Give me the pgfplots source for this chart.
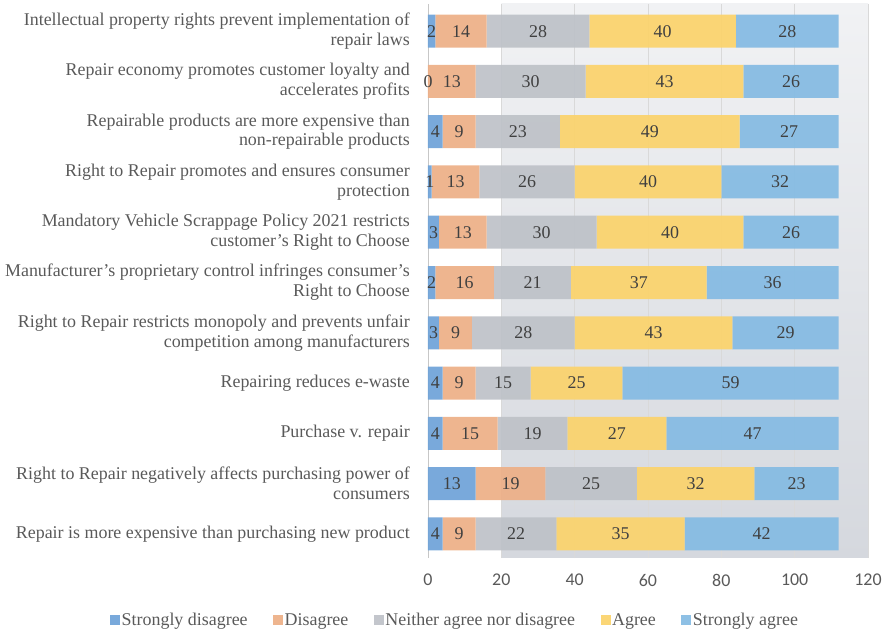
\documentclass[border=0pt]{standalone}
\usepackage{fontspec}
\setmainfont{Liberation Serif}
\newfontfamily\tickfont{Carlito}
\usepackage{pgfplots}
\usepackage{pgfplotstable}
\pgfplotsset{compat=1.18}
\definecolor{cSD}{HTML}{6FA3D8}
\definecolor{cD}{HTML}{EDAF87}
\definecolor{cN}{HTML}{BEC2C8}
\definecolor{cA}{HTML}{FBD36C}
\definecolor{cSA}{HTML}{85BBE3}
\definecolor{labgray}{HTML}{595959}
\definecolor{valgray}{HTML}{404040}
\definecolor{gridgray}{HTML}{D9D9D9}
\definecolor{bgtop}{HTML}{F1F2F4}
\definecolor{bgbot}{HTML}{D5D8DE}

\pgfplotstableread{
idx sd d n a sa
0 4 9 22 35 42
1 13 19 25 32 23
2 4 15 19 27 47
3 4 9 15 25 59
4 3 9 28 43 29
5 2 16 21 37 36
6 3 13 30 40 26
7 1 13 26 40 32
8 4 9 23 49 27
9 0 13 30 43 26
10 2 14 28 40 28
}\datatable

\pgfplotsset{
  seg/.style={fill=#1, draw=none, fill opacity=0.93},
  common/.style={
    scale only axis,
    width=440bp, height=554bp,
    at={(0,0)}, anchor=south west,
    xmin=0, xmax=120,
    ymin=-0.48, ymax=10.54,
  },
  lab/.style={only marks, mark=none, nodes near coords, point meta=explicit,
    every node near coord/.style={anchor=center, text=valgray, inner sep=0pt,
      font=\fontsize{18}{20}\selectfont}},
}

\begin{document}
\begin{tikzpicture}
\shade[top color=bgtop, bottom color=bgbot] (73.333bp,0bp) rectangle (440bp,554bp);
\begin{axis}[
  common,
  xbar stacked,
  bar width=33bp,
  xtick={0,20,...,120},
  ytick={0,...,10},
  yticklabels={
    {Repair is more expensive than purchasing new product},
    {Right to Repair negatively affects purchasing power of\\consumers},
    {Purchase v. repair},
    {Repairing reduces e-waste},
    {Right to Repair restricts monopoly and prevents unfair\\competition among manufacturers},
    {Manufacturer's proprietary control infringes consumer's\\Right to Choose},
    {Mandatory Vehicle Scrappage Policy 2021 restricts\\customer's Right to Choose},
    {Right to Repair promotes and ensures consumer\\protection},
    {Repairable products are more expensive than\\non-repairable products},
    {Repair economy promotes customer loyalty and\\accelerates profits},
    {Intellectual property rights prevent implementation of\\repair laws}
  },
  major tick length=0pt,
  axis lines*=left,
  x axis line style={draw=none},
  y axis line style={draw=gridgray!80!gray, line width=0.8pt},
  xmajorgrids,
  grid style={draw=gridgray, line width=0.8pt},
  yticklabel style={align=right, inner sep=0pt, xshift=-18bp, text=labgray,
    font=\fontsize{18}{20}\selectfont},
  xticklabel style={inner sep=0pt, yshift=-16bp, text=labgray,
    font=\tickfont\fontsize{18}{20}\selectfont},
  /pgf/number format/assume math mode=true,
  legend image code/.code={\fill[#1] (0bp,-5bp) rectangle (10bp,5bp);},
  legend style={at={(0.061,-0.112)}, anchor=center, draw=none, fill=none,
    legend columns=5, font=\fontsize{18}{20}\selectfont, text=labgray,
    nodes={inner sep=1.5bp},
    /tikz/every even column/.append style={column sep=24bp}},
  legend cell align=left,
]
\addplot[seg=cSD] table[x=sd,y=idx]{\datatable};
\addplot[seg=cD] table[x=d,y=idx]{\datatable};
\addplot[seg=cN] table[x=n,y=idx]{\datatable};
\addplot[seg=cA] table[x=a,y=idx]{\datatable};
\addplot[seg=cSA] table[x=sa,y=idx]{\datatable};
\legend{Strongly disagree, Disagree, Neither agree nor disagree, Agree, Strongly agree}
\end{axis}
\begin{axis}[common, hide axis, clip=false, /pgf/number format/assume math mode=true]
\addplot[lab] table[x expr={\thisrow{sd}/2}, y=idx, meta=sd]{\datatable};
\addplot[lab] table[x expr={\thisrow{sd}+\thisrow{d}/2}, y=idx, meta=d]{\datatable};
\addplot[lab] table[x expr={\thisrow{sd}+\thisrow{d}+\thisrow{n}/2}, y=idx, meta=n]{\datatable};
\addplot[lab] table[x expr={\thisrow{sd}+\thisrow{d}+\thisrow{n}+\thisrow{a}/2}, y=idx, meta=a]{\datatable};
\addplot[lab] table[x expr={\thisrow{sd}+\thisrow{d}+\thisrow{n}+\thisrow{a}+\thisrow{sa}/2}, y=idx, meta=sa]{\datatable};
\end{axis}
\path (-428bp,-76bp) rectangle (458bp,558bp);
\end{tikzpicture}
\end{document}
